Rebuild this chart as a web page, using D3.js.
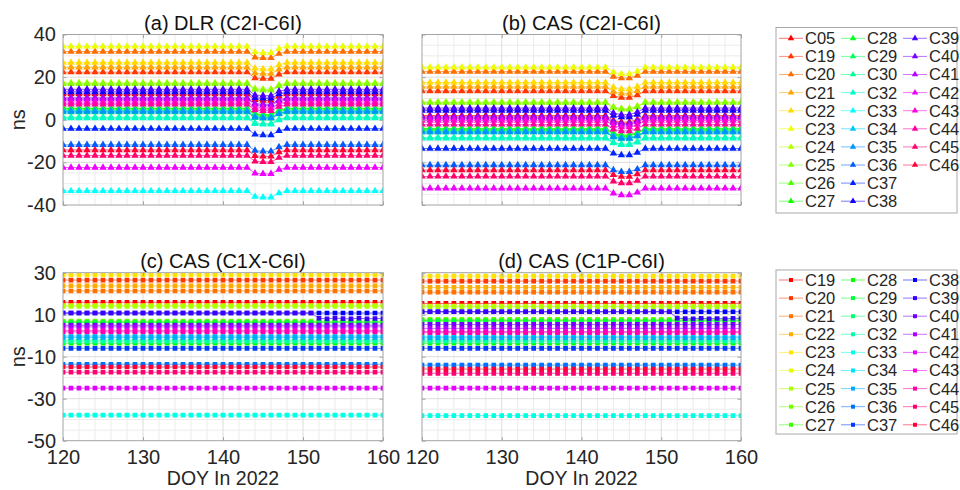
<!DOCTYPE html>
<html>
<head>
<meta charset="utf-8">
<script src="https://cdn.jsdelivr.net/npm/d3@7"></script>
<style>
  body { margin: 0; background: #fff; }
  svg { display: block; font-family: Arial, "Liberation Sans", Helvetica, sans-serif; }
</style>
</head>
<body>
<svg id="chart" width="960" height="490"></svg>
<script>
// Day of year (2022)
const days = [120,121,122,123,124,125,126,127,128,129,130,131,132,133,134,135,136,137,138,139,140,
              141,142,143,144,145,146,147,148,149,150,151,152,153,154,155,156,157,158,159,160];

// Satellites in each group
const prnTop = ["C05","C19","C20","C21","C22","C23","C24","C25","C26","C27","C28","C29","C30","C32",
                "C33","C34","C35","C36","C37","C38","C39","C40","C41","C42","C43","C44","C45","C46"];
const prnBottom = ["C19","C20","C21","C22","C23","C24","C25","C26","C27","C28","C29","C30","C32",
                   "C33","C34","C35","C36","C37","C38","C39","C40","C41","C42","C43","C44","C45","C46"];

// Mean bias per satellite (ns)
const dlrC2I = [12.0, 22.3, 32.0, 24.6, 26.8, 34.4, 17.3, 16.8, 5.5, 5.0, 5.3, 3.6, 1.2, 0.8,
                -33.4, 4.2, 3.8, -11.8, -4.2, 13.0, 14.3, 10.3, 9.8, -22.4, 8.4, 7.2, -16.8, -14.2];
const casC2I = [2.0, 13.5, 22.6, 15.5, 17.5, 24.6, 8.3, 8.0, -4.0, -4.5, -4.2, -5.8, -8.3, -8.7,
                -43.2, -5.4, -5.8, -21.3, -13.5, 4.3, 5.5, 1.4, 0.8, -32.2, -0.4, -2.2, -26.6, -23.6];
const casC1X = [15.9, 26.5, 21.3, 23.7, 28.9, 14.3, 14.0, 6.9, 6.5, -3.6, 6.2, -2.0, -2.6,
                -37.8, -0.2, -0.8, -13.6, -6.0, 10.8, 10.8, 5.0, 4.2, -25.0, 2.4, 1.8, -17.4, -14.9];
const casC1P = [15.4, 26.0, 20.7, 23.0, 28.4, 14.1, 13.8, 7.8, 7.2, -3.6, 7.0, -2.0, -2.6,
                -38.1, -0.5, -1.0, -14.0, -6.0, 11.4, 11.4, 5.4, 3.5, -25.0, 2.0, 1.4, -17.9, -15.9];

// Day-to-day common shift (ns)
const dlrDayShift = [0,0,0,0,0,0,0,0,0,0,0,0,0,0,0,0,0,0,0,0,0,0,0,0,
                     -2.7,-3.0,-3.0,-1.0,0,0,0,0,0,0,0,0,0,0,0,0,0];
const casDayShift = [0,0,0,0,0,0,0,0,0,0,0,0,0,0,0,0,0,0,0,0,0,0,0,0,
                     -2.3,-3.1,-3.1,-1.9,0,0,0,0,0,0,0,0,0,0,0,0,0];

// C39 after its jump (DOY 152-160)
const c39TailDays = [152,153,154,155,156,157,158,159,160];
const c39TailC1X = [8.3, 8.0, 8.4, 8.1, 8.0, 8.3, 8.0, 8.2, 8.1];
const c39TailC1P = [8.4, 8.1, 8.0, 8.3, 8.0, 8.2, 8.0, 8.3, 8.2];

const xTicks = [120,130,140,150,160];
const yTicksTop = [-40,-20,0,20,40];
const yTicksBottom = [-50,-30,-10,10,30];

const svg = d3.select("#chart");
const ink = "#262626";
const boxColor = "#a3a3a3";

function hsvColor(i, n) { return d3.hsl(i * 360 / n, 1, 0.5).formatHex(); }

function buildSeries(prns, base, shift, tailValues) {
  return prns.map((prn, i) => ({
    prn,
    color: hsvColor(i, prns.length),
    points: days.map((d, k) => {
      let v = base[i] + (shift ? shift[k] : 0);
      if (tailValues && prn === "C39") {
        const j = c39TailDays.indexOf(d);
        if (j >= 0) v = tailValues[j];
      }
      return { d, v };
    })
  }));
}

const panels = [
  { id: "a", title: "(a) DLR (C2I-C6I)", x0: 63, x1: 383, y0: 34.5, y1: 205, domain: [-40, 40],
    yTicks: yTicksTop, yLabels: true, xLabels: false, marker: d3.symbolTriangle,
    series: buildSeries(prnTop, dlrC2I, dlrDayShift, null) },
  { id: "b", title: "(b) CAS (C2I-C6I)", x0: 422, x1: 741, y0: 34.5, y1: 205, domain: [-40, 40],
    yTicks: yTicksTop, yLabels: false, xLabels: false, marker: d3.symbolTriangle,
    series: buildSeries(prnTop, casC2I, casDayShift, null) },
  { id: "c", title: "(c) CAS (C1X-C6I)", x0: 63, x1: 383, y0: 272.7, y1: 440.7, domain: [-50, 30],
    yTicks: yTicksBottom, yLabels: true, xLabels: true, marker: d3.symbolSquare,
    series: buildSeries(prnBottom, casC1X, null, c39TailC1X) },
  { id: "d", title: "(d) CAS (C1P-C6I)", x0: 422, x1: 741, y0: 272.7, y1: 440.7, domain: [-50, 30],
    yTicks: yTicksBottom, yLabels: false, xLabels: true, marker: d3.symbolSquare,
    series: buildSeries(prnBottom, casC1P, null, c39TailC1P) }
];

const defs = svg.append("defs");

panels.forEach(p => {
  const x = d3.scaleLinear().domain([120, 160]).range([p.x0, p.x1]);
  const y = d3.scaleLinear().domain(p.domain).range([p.y1, p.y0]);
  const g = svg.append("g").attr("class", "panel-" + p.id);
  const w = p.x1 - p.x0, h = p.y1 - p.y0;

  // minor grid
  const minorX = d3.range(122, 160, 2).filter(v => v % 10 !== 0);
  const minorY = d3.range(p.domain[0] + 5, p.domain[1], 5).filter(v => !p.yTicks.includes(v));
  g.append("g").selectAll("line").data(minorX).join("line")
    .attr("x1", d => x(d)).attr("x2", d => x(d)).attr("y1", p.y0).attr("y2", p.y1)
    .attr("stroke", "#ececec").attr("stroke-width", 1);
  g.append("g").selectAll("line").data(minorY).join("line")
    .attr("x1", p.x0).attr("x2", p.x1).attr("y1", d => y(d)).attr("y2", d => y(d))
    .attr("stroke", "#ececec").attr("stroke-width", 1);
  // major grid
  g.append("g").selectAll("line").data(xTicks.slice(1, -1)).join("line")
    .attr("x1", d => x(d)).attr("x2", d => x(d)).attr("y1", p.y0).attr("y2", p.y1)
    .attr("stroke", "#dcdcdc").attr("stroke-width", 1);
  g.append("g").selectAll("line").data(p.yTicks.slice(1, -1)).join("line")
    .attr("x1", p.x0).attr("x2", p.x1).attr("y1", d => y(d)).attr("y2", d => y(d))
    .attr("stroke", "#dcdcdc").attr("stroke-width", 1);

  // data
  defs.append("clipPath").attr("id", "clip-" + p.id)
    .append("rect").attr("x", p.x0).attr("y", p.y0).attr("width", w).attr("height", h);
  const plot = g.append("g").attr("clip-path", `url(#clip-${p.id})`);
  const line = d3.line().x(d => x(d.d)).y(d => y(d.v));
  const sym = d3.symbol().type(p.marker).size(p.marker === d3.symbolTriangle ? 24 : 22);
  p.series.forEach(s => {
    const sg = plot.append("g");
    sg.append("path").attr("d", line(s.points)).attr("fill", "none")
      .attr("stroke", s.color).attr("stroke-width", 0.8).attr("stroke-opacity", 0.8);
    sg.selectAll("path.m").data(s.points).join("path").attr("class", "m")
      .attr("transform", d => `translate(${x(d.d)},${y(d.v)})`)
      .attr("d", sym).attr("fill", s.color);
  });

  // axes with inward ticks on all sides
  const fmt = d => String(d);
  const bottom = g.append("g").attr("transform", `translate(0,${p.y1})`)
    .call(d3.axisBottom(x).tickValues(xTicks).tickSize(-3.5).tickPadding(9)
      .tickFormat(p.xLabels ? fmt : () => ""));
  const top = g.append("g").attr("transform", `translate(0,${p.y0})`)
    .call(d3.axisTop(x).tickValues(xTicks).tickSize(-3.5).tickFormat(() => ""));
  const left = g.append("g").attr("transform", `translate(${p.x0},0)`)
    .call(d3.axisLeft(y).tickValues(p.yTicks).tickSize(-3.5).tickPadding(7)
      .tickFormat(p.yLabels ? fmt : () => ""));
  const right = g.append("g").attr("transform", `translate(${p.x1},0)`)
    .call(d3.axisRight(y).tickValues(p.yTicks).tickSize(-3.5).tickFormat(() => ""));
  [bottom, top, left, right].forEach(a => {
    a.select(".domain").remove();
    a.selectAll(".tick line").attr("stroke", boxColor);
    a.selectAll(".tick text").attr("fill", ink).style("font-size", "20px")
      .style("font-family", "Arial, 'Liberation Sans', sans-serif");
  });
  g.append("rect").attr("x", p.x0).attr("y", p.y0).attr("width", w).attr("height", h)
    .attr("fill", "none").attr("stroke", boxColor).attr("stroke-width", 1);

  // title
  g.append("text").attr("x", (p.x0 + p.x1) / 2).attr("y", p.y0 - 5)
    .attr("text-anchor", "middle").attr("fill", "#111").style("font-size", "20px")
    .text(p.title);

  if (p.yLabels) {
    g.append("text").attr("transform", `translate(25,${(p.y0 + p.y1) / 2}) rotate(-90)`)
      .attr("text-anchor", "middle").attr("fill", ink).style("font-size", "20px").text("ns");
  }
  if (p.xLabels) {
    g.append("text").attr("x", (p.x0 + p.x1) / 2).attr("y", 485)
      .attr("text-anchor", "middle").attr("fill", ink).style("font-size", "19.5px").text("DOY In 2022");
  }
});

// legends
function drawLegend(series, marker, boxY0, boxY1, rowY0) {
  const lg = svg.append("g");
  lg.append("rect").attr("x", 776).attr("y", boxY0).attr("width", 181).attr("height", boxY1 - boxY0)
    .attr("fill", "#fff").attr("stroke", "#a8a8a8").attr("stroke-width", 1);
  const colX = [779, 841, 903];
  const rowH = 18.1;
  const perCol = series.length === 27 ? 9 : 10;
  const sym = d3.symbol().type(marker).size(marker === d3.symbolTriangle ? 18 : 16);
  series.forEach((s, i) => {
    const col = Math.floor(i / perCol), row = i % perCol;
    const cx = colX[col], cy = rowY0 + row * rowH;
    lg.append("line").attr("x1", cx).attr("x2", cx + 24).attr("y1", cy).attr("y2", cy)
      .attr("stroke", s.color).attr("stroke-width", 1).attr("stroke-opacity", 0.55);
    lg.append("path").attr("transform", `translate(${cx + 12},${cy})`).attr("d", sym).attr("fill", s.color);
    lg.append("text").attr("x", cx + 26).attr("y", cy).attr("dy", "0.36em")
      .attr("fill", ink).style("font-size", "16.5px").text(s.prn);
  });
}
drawLegend(panels[0].series, d3.symbolTriangle, 27.5, 213, 38.3);
drawLegend(panels[2].series, d3.symbolSquare, 270, 434, 280);
</script>
</body>
</html>
